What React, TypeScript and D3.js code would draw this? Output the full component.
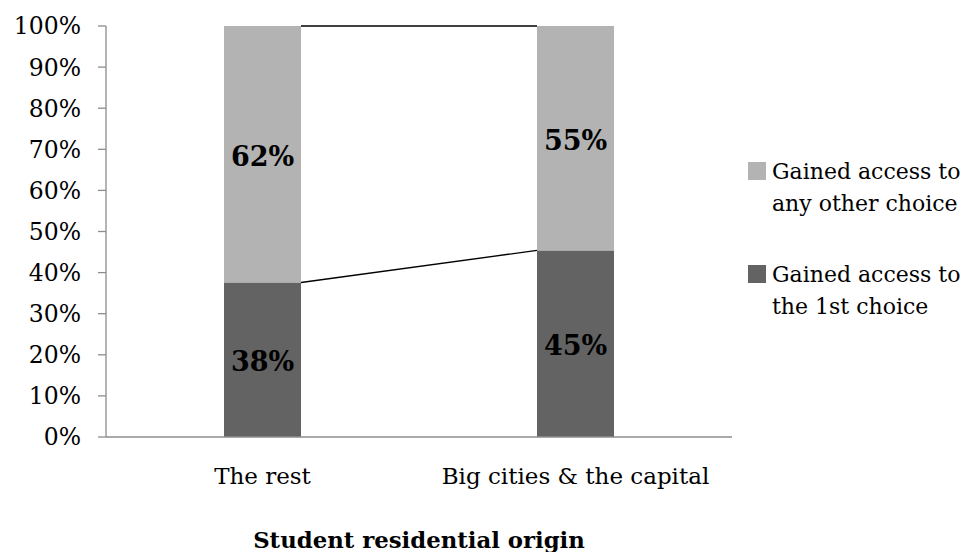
import React from "react";
import * as d3 from "d3";

const categories = ["The rest", "Big cities & the capital"];
const firstChoice = [0.376, 0.454];
const otherChoice = [0.624, 0.546];
const seriesNames = ["Gained access to the 1st choice", "Gained access to any other choice"];
const legendLines = [["Gained access to", "any other choice"], ["Gained access to", "the 1st choice"]];
const yTicks = [0, 0.1, 0.2, 0.3, 0.4, 0.5, 0.6, 0.7, 0.8, 0.9, 1.0];
const xTitle = "Student residential origin";

const W = 966, H = 552;
const FONT = "'DejaVu Serif', serif";
const DARK = "#636363";
const LIGHT = "#b3b3b3";
const AXIS = "#8c8c8c";

export default function App() {
  const x = d3.scaleBand<string>().domain(categories).range([106, 732]).padding(0);
  const y = d3.scaleLinear().domain([0, 1]).range([437, 26]);
  const barW = x.bandwidth() * 0.246;
  const fmt = d3.format(".0%");
  const stacks = categories.map((c, i) => ({
    c,
    x0: (x(c) as number) + (x.bandwidth() - barW) / 2,
    segs: [
      { v0: 0, v1: firstChoice[i], color: DARK, label: fmt(firstChoice[i]) },
      { v0: firstChoice[i], v1: firstChoice[i] + otherChoice[i], color: LIGHT, label: fmt(otherChoice[i]) },
    ],
  }));
  const line = d3.line<[number, number]>().x((d) => d[0]).y((d) => d[1]);
  const seriesLines: string[] = [];
  for (let s = 0; s < 2; s++) {
    for (let i = 0; i < stacks.length - 1; i++) {
      const a = stacks[i], b = stacks[i + 1];
      seriesLines.push(
        line([
          [a.x0 + barW, y(a.segs[s].v1)],
          [b.x0, y(b.segs[s].v1)],
        ]) as string
      );
    }
  }
  const legendColors = [LIGHT, DARK];
  const legendY = [179, 282];

  return (
    <svg width={W} height={H} style={{ position: "absolute", left: 0, top: 0, background: "#fff" }} fontFamily={FONT}>
      {/* y axis */}
      <line x1={106} x2={106} y1={y(1)} y2={y(0)} stroke={AXIS} strokeWidth={1.3} />
      {yTicks.map((t) => (
        <g key={t}>
          <line x1={98} x2={106} y1={y(t)} y2={y(t)} stroke={AXIS} strokeWidth={1.3} />
          <text x={81} y={y(t)} dy="0.36em" textAnchor="end" fontSize={23.5} fill="#000">
            {fmt(t)}
          </text>
        </g>
      ))}
      {/* bars */}
      {stacks.map((st) =>
        st.segs.map((sg, j) => (
          <g key={st.c + j}>
            <rect x={st.x0} width={barW} y={y(sg.v1)} height={y(sg.v0) - y(sg.v1)} fill={sg.color} />
            <text
              x={st.x0 + barW / 2}
              y={(y(sg.v0) + y(sg.v1)) / 2 + 2}
              dy="0.36em"
              textAnchor="middle"
              fontSize={27}
              fontWeight="bold"
              fill="#000"
            >
              {sg.label}
            </text>
          </g>
        ))
      )}
      {/* series lines */}
      {seriesLines.map((d, i) => (
        <path key={i} d={d} stroke="#000" strokeWidth={1.4} fill="none" />
      ))}
      {/* x axis */}
      <line x1={106} x2={732} y1={y(0)} y2={y(0)} stroke={AXIS} strokeWidth={1.3} />
      {categories.map((c) => (
        <text key={c} x={(x(c) as number) + x.bandwidth() / 2} y={484} textAnchor="middle" fontSize={23} fill="#000">
          {c}
        </text>
      ))}
      <text x={419} y={548} textAnchor="middle" fontSize={22.8} fontWeight="bold" fill="#000">
        {xTitle}
      </text>
      {/* legend */}
      {legendLines.map((lines, i) => (
        <g key={i}>
          <rect x={748} y={legendY[i] - 17} width={18} height={18} fill={legendColors[i]} />
          {lines.map((ln, k) => (
            <text key={k} x={772} y={legendY[i] + k * 32} fontSize={22} fill="#000">
              {ln}
            </text>
          ))}
        </g>
      ))}
      <title>{seriesNames.join(" / ")}</title>
    </svg>
  );
}
